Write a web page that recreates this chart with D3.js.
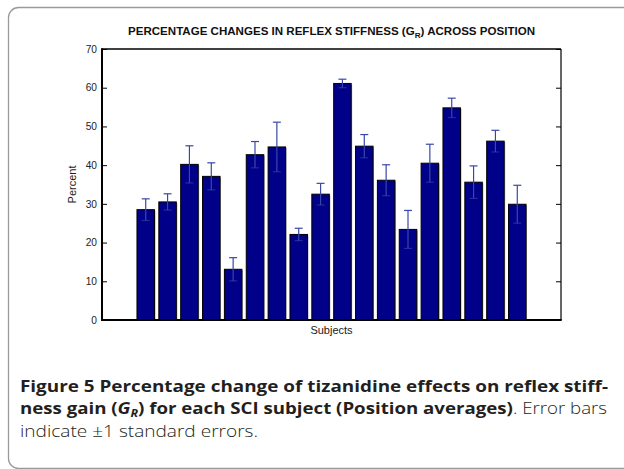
<!DOCTYPE html>
<html>
<head>
<meta charset="utf-8">
<title>Percentage changes in reflex stiffness</title>
<script src="https://cdnjs.cloudflare.com/ajax/libs/d3/7.8.5/d3.min.js"></script>
<style>
body { margin: 0; background: #fff; }
.axis text { font-family: "Liberation Sans", Arial, sans-serif; font-size: 10.2px; fill: #222; }
.axis path { display: none; }
.axis line { stroke: #000; }
.label { font-family: "Liberation Sans", Arial, sans-serif; font-size: 11px; fill: #222; }
.title { font-family: "Liberation Sans", Arial, sans-serif; font-size: 10px; font-weight: bold; fill: #111; }
.caption { font-family: "Open Sans", sans-serif; font-size: 16.5px; fill: #231f20; }
.caption .b { font-weight: bold; }
.caption .n { font-weight: 300; }
</style>
</head>
<body>
<svg id="chart" width="624" height="469"></svg>
<script>

// values (percent), one per subject
var subjects = d3.range(1, 19);
var percent = [28.5, 30.5, 40.2, 37.1, 13.1, 42.7, 44.7, 22.1, 32.5,
               61.1, 44.9, 36.1, 23.4, 40.5, 54.8, 35.6, 46.2, 29.9];
var stderr  = [2.8, 2.1, 4.8, 3.5, 3.0, 3.4, 6.4, 1.6, 2.8,
               1.1, 3.0, 4.0, 4.9, 4.9, 2.5, 4.2, 2.8, 4.9];
var yTicks = [0, 10, 20, 30, 40, 50, 60, 70];

var svg = d3.select("#chart");

// outer figure frame
svg.append("rect")
  .attr("x", 8.5).attr("y", 7.5)
  .attr("width", 640).attr("height", 461)
  .attr("rx", 10).attr("ry", 10)
  .attr("fill", "none").attr("stroke", "#9a9a9a").attr("stroke-width", 1.3);

var plotL = 102, plotR = 561, plotT = 49, plotB = 320;

var x = d3.scaleLinear().domain([-1, 20]).range([plotL, plotR]);
var y = d3.scaleLinear().domain([0, 70]).range([plotB, plotT]);
var barW = x(0.8) - x(0);

// bars, with a faint grey edge like the original rendering
var bars = svg.append("g");
bars.selectAll("rect.shadow").data(subjects).enter().append("rect")
  .attr("class", "shadow")
  .attr("x", function (d) { return x(d) - barW / 2 + 1; })
  .attr("y", function (d, i) { return y(percent[i]) + 1; })
  .attr("width", barW)
  .attr("height", function (d, i) { return plotB - y(percent[i]) - 1; })
  .attr("fill", "#a0a0a0");
bars.selectAll("rect.bar").data(subjects).enter().append("rect")
  .attr("class", "bar")
  .attr("x", function (d) { return x(d) - barW / 2; })
  .attr("y", function (d, i) { return y(percent[i]); })
  .attr("width", barW)
  .attr("height", function (d, i) { return plotB - y(percent[i]); })
  .attr("fill", "#000088")
  .attr("stroke", "#000").attr("stroke-width", 1);

// error bars
var err = svg.append("g").attr("stroke", "#3848a8").attr("stroke-width", 1.2);
subjects.forEach(function (d, i) {
  var cx = x(d), hi = y(percent[i] + stderr[i]), lo = y(percent[i] - stderr[i]);
  err.append("line").attr("x1", cx).attr("x2", cx).attr("y1", hi).attr("y2", lo);
  err.append("line").attr("x1", cx - 4).attr("x2", cx + 4).attr("y1", hi).attr("y2", hi);
  err.append("line").attr("x1", cx - 4).attr("x2", cx + 4).attr("y1", lo).attr("y2", lo)
    .attr("stroke-opacity", 0.6);
});

// axes box
svg.append("line").attr("x1", plotL).attr("x2", plotR).attr("y1", plotT).attr("y2", plotT)
  .attr("stroke", "#000").attr("stroke-width", 1.5);
svg.append("line").attr("x1", plotR).attr("x2", plotR).attr("y1", plotT).attr("y2", plotB)
  .attr("stroke", "#333").attr("stroke-width", 1.5);
svg.append("line").attr("x1", plotL).attr("x2", plotL).attr("y1", plotT - 0.7).attr("y2", plotB + 1)
  .attr("stroke", "#000").attr("stroke-width", 2);
svg.append("line").attr("x1", plotL - 1).attr("x2", plotR + 0.7).attr("y1", plotB).attr("y2", plotB)
  .attr("stroke", "#000").attr("stroke-width", 2);

svg.append("g").attr("class", "axis")
  .attr("transform", "translate(" + plotL + ",0)")
  .call(d3.axisLeft(y).tickValues(yTicks).tickSize(-5).tickPadding(5));
svg.append("g").attr("class", "axis")
  .attr("transform", "translate(" + plotR + ",0)")
  .call(d3.axisRight(y).tickValues(yTicks).tickSize(-5).tickFormat(""));

// labels
svg.append("text").attr("class", "label")
  .attr("x", (plotL + plotR) / 2).attr("y", 334).attr("text-anchor", "middle")
  .text("Subjects");
svg.append("text").attr("class", "label")
  .attr("transform", "translate(76," + ((plotT + plotB) / 2) + ") rotate(-90)")
  .attr("text-anchor", "middle").text("Percent");

var title = svg.append("text").attr("class", "title")
  .attr("x", 128).attr("y", 35)
  .attr("textLength", 407).attr("lengthAdjust", "spacingAndGlyphs");
title.append("tspan").text("PERCENTAGE CHANGES IN REFLEX STIFFNESS (G");
title.append("tspan").attr("dy", 3).attr("font-size", "7px").text("R");
title.append("tspan").attr("dy", -3).text(") ACROSS POSITION");

// caption
var cap = svg.append("g").attr("class", "caption");
var l1 = cap.append("text").attr("x", 20).attr("y", 392)
  .attr("textLength", 588).attr("lengthAdjust", "spacingAndGlyphs");
l1.append("tspan").attr("class", "b").text("Figure 5 Percentage change of tizanidine effects on reflex stiff-");

var l2 = cap.append("text").attr("x", 20).attr("y", 414)
  .attr("textLength", 587).attr("lengthAdjust", "spacingAndGlyphs");
l2.append("tspan").attr("class", "b").text("ness gain (");
l2.append("tspan").attr("class", "b").attr("font-style", "italic").text("G");
l2.append("tspan").attr("class", "b").attr("font-style", "italic").attr("font-size", "11px").attr("dy", 3).text("R");
l2.append("tspan").attr("class", "b").attr("dy", -3).text(") for each SCI subject (Position averages)");
l2.append("tspan").attr("class", "n").text(". Error bars");

cap.append("text").attr("class", "n").attr("x", 20).attr("y", 437)
  .attr("textLength", 238).attr("lengthAdjust", "spacingAndGlyphs")
  .text("indicate \u00b11 standard errors.");

</script>
</body>
</html>
